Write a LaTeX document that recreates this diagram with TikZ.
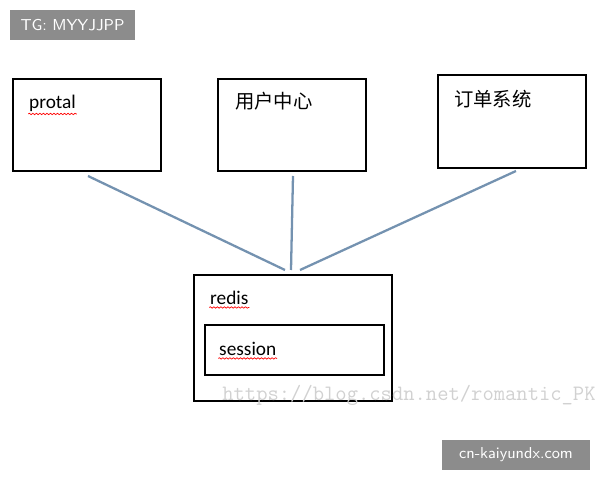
\documentclass[tikz,border=0pt]{standalone}
\usepackage{fontspec}
\setmainfont{Carlito}
\newfontfamily\cjk{Noto Sans CJK SC}
\usetikzlibrary{decorations.pathmorphing,positioning}

\begin{document}
\begin{tikzpicture}[x=0.02cm,y=-0.02cm]
			\tikzstyle{Box}		= [draw, semithick, inner sep=0pt]
			\tikzstyle{Label}	= [anchor=west, font=\fontsize{11}{13}\selectfont]
			\tikzstyle{Tag}		= [fill=black!45, text=white, font=\sffamily\fontsize{9}{11}\selectfont, inner sep=0pt]
			\tikzstyle{Link}	= [line width=1.3pt, color={rgb,255:red,116;green,146;blue,176}]
			\tikzstyle{Wavy}	= [red, thin, decorate, decoration={snake, amplitude=0.4pt, segment length=2pt}]

			\useasboundingbox (0,0) rectangle (600,480);

			\node (tg) at (72.5,25) [Tag, minimum width=2.5cm, minimum height=0.6cm] {TG: MYYJJPP};
			\node (site) at (516,455) [Tag, minimum width=2.96cm, minimum height=0.6cm] {cn-kaiyundx.com};

			\draw [Box] (13,79) rectangle (161,171);
			\draw [Box] (218,79) rectangle (366,171);
			\draw [Box] (438,75) rectangle (586,168);
			\draw [Box] (194,275) rectangle (392,401);
			\draw [Box] (205,325) rectangle (384,375);

			\node (protal) at (23,103) [Label] {protal};
			\node (user) at (229,101) [Label] {\cjk 用户中心};
			\node (order) at (448,99) [Label] {\cjk 订单系统};
			\node (redis) at (204,298) [Label] {redis};
			\node (session) at (213,349) [Label] {session};

			\foreach \n in {protal, redis, session}
				\draw [Wavy] ([xshift=3pt,yshift=2pt]\n.south west) -- ([xshift=-3pt,yshift=2pt]\n.south east);

			\node (mark) at (409,395) [text=black!18, font=\ttfamily\fontsize{12.5}{14}\selectfont] {https://blog.csdn.net/romantic\_PK};

			\coordinate (p1) at (88,176);   \coordinate (r1) at (285,270);
			\coordinate (p2) at (293,176);  \coordinate (r2) at (291,270);
			\coordinate (p3) at (516,171);  \coordinate (r3) at (300,270);
			\foreach \i in {1,2,3}
				\draw [Link] (p\i) -- (r\i);
		\end{tikzpicture}
\end{document}
